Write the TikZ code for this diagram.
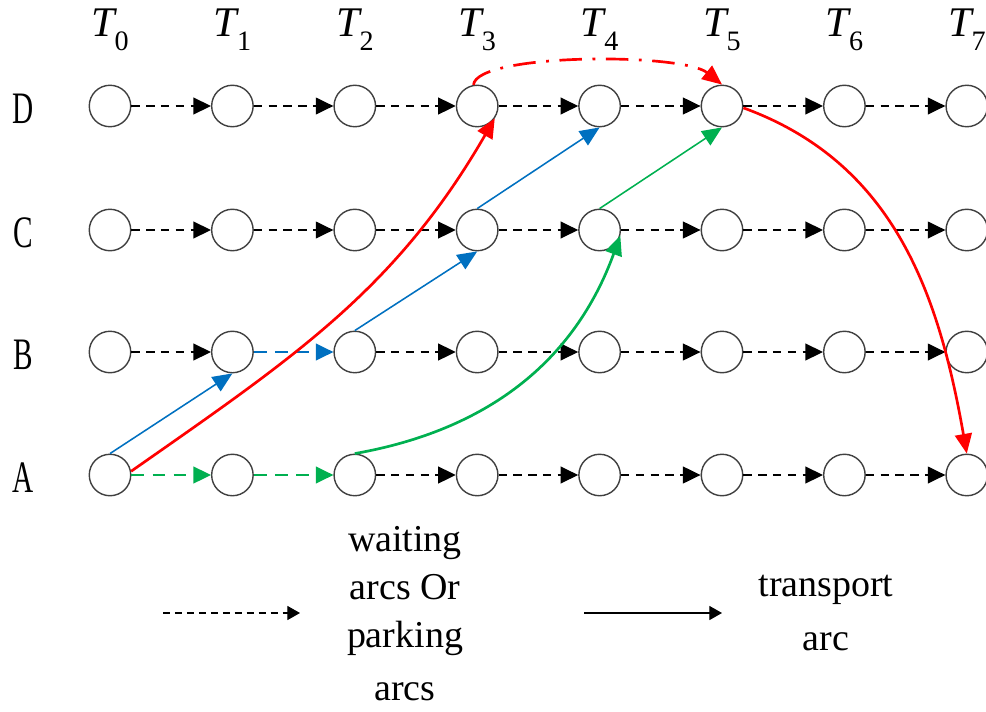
\documentclass[tikz,border=0pt]{standalone}
\usepackage{fontspec}
\setmainfont{Liberation Serif}
\usepackage{tikz}
\usetikzlibrary{arrows.meta}
\definecolor{ArcRed}  {RGB}{255,0,0}
\definecolor{ArcBlue} {RGB}{0,112,192}
\definecolor{ArcGreen}{RGB}{0,176,80}
\definecolor{SlotLine}{RGB}{64,64,64}
\tikzset{
  nd_slot/.style={circle,draw=SlotLine,line width=1pt,minimum size=29.5pt,inner sep=0pt},
  nd_time/.style={font=\fontsize{30}{30}\selectfont\itshape,anchor=base,inner sep=0pt},
  nd_row/.style={font=\fontsize{32}{32}\selectfont,xscale=0.65,anchor=base,inner sep=0pt},
  nd_key/.style={font=\fontsize{27}{34}\selectfont,align=center,inner sep=0pt},
  arr_wait/.style={-{Triangle[length=12.5pt,width=12pt]},dash pattern=on 6pt off 4.5pt,line width=0.9pt},
  arr_park/.style={arr_wait,dash pattern=on 9pt off 6pt,line width=1.1pt},
  arr_move/.style={-{Triangle[length=14pt,width=12pt]},line width=1.1pt},
  arr_heavy/.style={-{Triangle[length=14pt,width=12pt]},line width=1.9pt},
  key_wait/.style={-{Triangle[length=9pt,width=10pt]},dash pattern=on 5pt off 3.5pt,line width=0.8pt},
  key_move/.style={-{Triangle[length=9pt,width=10pt]},line width=0.9pt},
}
\newcommand{\tsub}[1]{{\fontsize{20}{20}\selectfont\upshape\raisebox{-10pt}{#1}}}

\begin{document}
\begin{tikzpicture}[x=0.025cm,y=-0.025cm]
\useasboundingbox (0,0) rectangle (986,711);
% time slots and locations
\foreach \i in {0,...,7}{
  \node[nd_time] (T\i) at (110+122.4*\i,36) {T\tsub{\i}};
}
\foreach \r/\y in {D/106,C/230,B/352,A/475}{
  \node[nd_row] (L\r) at (23,\y+17) {\r};
  \foreach \i in {0,...,7}{
    \node[nd_slot] (\r\i) at (110+122.4*\i,\y) {};
  }
}
% waiting arcs
\foreach \r in {C,D}{\foreach \i [count=\j] in {0,...,6}{\draw[arr_wait] (\r\i) -- (\r\j);}}
\foreach \i/\j in {0/1,2/3,3/4,4/5,5/6,6/7}{\draw[arr_wait] (B\i) -- (B\j);}
\foreach \i/\j in {2/3,3/4,4/5,5/6,6/7}{\draw[arr_wait] (A\i) -- (A\j);}
\draw[arr_park,ArcGreen](A0) -- (A1);
\draw[arr_park,ArcGreen](A1) -- (A2);
\draw[arr_park,ArcBlue](B1) -- (B2);
% transport arcs
\draw[arr_move,ArcBlue](A0.north) -- (B1.south);
\draw[arr_move,ArcBlue](B2.north) -- (C3.south);
\draw[arr_move,ArcBlue](C3.north) -- (D4.south);
\draw[arr_move,ArcGreen](C4.north) -- (D5.south);
\draw[arr_heavy,ArcGreen](A2.north) to[out=10,in=-110] (C4.-15);
\draw[arr_heavy,ArcRed](A0.10) to[out=35,in=240] (D3.-35);
\draw[arr_heavy,ArcRed,dash pattern=on 16pt off 7.5pt on 2pt off 7.5pt]
  (D3.100) .. controls +(3,-32) and +(-40,-32) .. (D5.north);
\draw[arr_heavy,ArcRed](D5.-5) to[out=-20,in=100] (A7.north);
% legend
\coordinate (kW0) at (163,613);
\coordinate (kW1) at (300,613);
\coordinate (kM0) at (584,613);
\coordinate (kM1) at (722,613);
\draw[key_wait](kW0) -- (kW1);
\draw[key_move](kM0) -- (kM1);
\node[nd_key,anchor=north] (kWtxt) at (405,526) {waiting\\arcs Or\\parking\\[4pt]arcs};
\node[nd_key,anchor=north] (kMtxt) at (826,575) {transport\\[4pt]arc};
\end{tikzpicture}
\end{document}
